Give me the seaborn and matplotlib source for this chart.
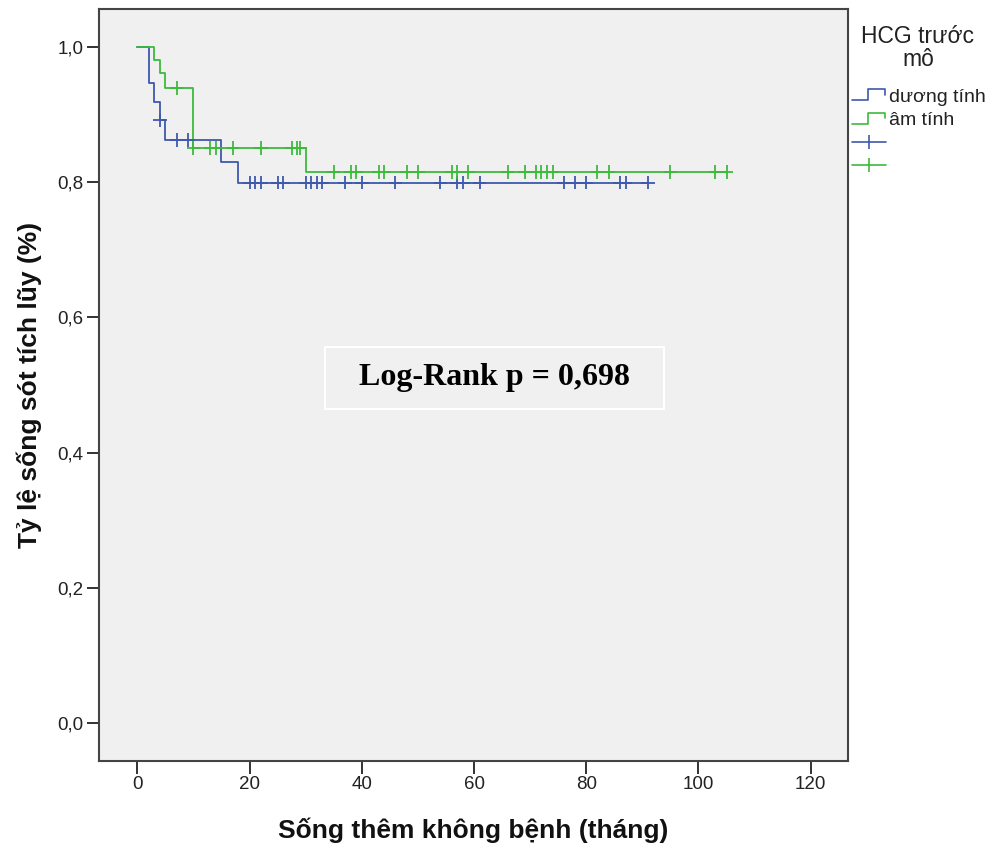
import numpy as np
import pandas as pd
import matplotlib
matplotlib.use("Agg")
import matplotlib.pyplot as plt
import seaborn as sns
from matplotlib.lines import Line2D
from matplotlib.patches import Rectangle
from matplotlib.legend_handler import HandlerBase
from matplotlib.ticker import FuncFormatter

# step points of the Kaplan-Meier curves (time in months, cumulative survival)
pos_times = [0, 2, 3, 4, 5, 15, 18]
pos_surv = [1.0, 0.947, 0.918, 0.891, 0.862, 0.830, 0.799]
neg_times = [0, 3, 4, 5, 10, 30]
neg_surv = [1.0, 0.981, 0.961, 0.939, 0.850, 0.815]

# censored observations
pos_censor = [4, 7, 9, 20, 21, 22, 25, 26, 30, 31, 32, 33, 37, 40, 46, 54,
              57, 58, 61, 76, 78, 80, 86, 87, 91]
neg_censor = [7, 10, 13, 14, 17, 22, 27.5, 28.5, 29, 35, 38, 39, 43, 44, 48,
              50, 56, 57, 59, 66, 69, 71, 72, 73, 74, 82, 84, 95, 103, 105]

groups = ["dương tính", "âm tính"]
legend_title = "HCG trước\nmô"
x_ticks = [0, 20, 40, 60, 80, 100, 120]
y_ticks = [0.0, 0.2, 0.4, 0.6, 0.8, 1.0]
p_text = "Log-Rank p = 0,698"

blue = "#3e58ac"
green = "#3cba3c"
palette = {groups[0]: blue, groups[1]: green}

sns.set_style("ticks")
plt.rcParams['font.family'] = ['Liberation Sans', 'DejaVu Sans']


def level_at(times, surv, t):
    i = np.searchsorted(times, t, side='right') - 1
    return surv[i]


# build step table and censor table
rows = []
cens = []
for g, tt, ss, cc in [(groups[0], pos_times, pos_surv, pos_censor),
                      (groups[1], neg_times, neg_surv, neg_censor)]:
    for t, s in zip(tt, ss):
        rows.append((g, t, s))
    rows.append((g, max(cc), ss[-1]))
    for c in cc:
        cens.append((g, c, level_at(tt, ss, c)))
steps = pd.DataFrame(rows, columns=['group', 'time', 'surv'])
censored = pd.DataFrame(cens, columns=['group', 'time', 'surv'])

fig = plt.figure(figsize=(9.95, 8.48), dpi=100)
ax = fig.add_axes([99 / 995, 1 - 761 / 848, 749 / 995, 752 / 848])
ax.set_facecolor('#f0f0f0')

sns.lineplot(data=steps, x='time', y='surv', hue='group', palette=palette,
             drawstyle='steps-post', estimator=None, sort=False,
             linewidth=1.3, legend=False, ax=ax)
sns.scatterplot(data=censored, x='time', y='surv', hue='group', palette=palette,
                marker='+', s=95, linewidth=1.3, legend=False, ax=ax, zorder=3)

ax.set_xlim(-6.83, 126.65)
ax.set_ylim(-0.0557, 1.0557)
ax.set_xticks(x_ticks)
ax.set_yticks(y_ticks)
ax.yaxis.set_major_formatter(FuncFormatter(lambda v, p: f"{v:.1f}".replace('.', ',')))
ax.tick_params(direction='out', length=9, width=1.4, color='#333333',
               labelsize=13.5, labelcolor='#222222', pad=2)
for sp in ax.spines.values():
    sp.set_color('#444444')
    sp.set_linewidth(1.5)

ax.set_xlabel("Sống thêm không bệnh (tháng)", fontsize=19, fontweight='bold',
              color='#111111')
ax.set_ylabel("Tỷ lệ sống sót tích lũy (%)", fontsize=19, fontweight='bold',
              color='#111111')
ax.xaxis.set_label_coords(0.5, -0.0755)
ax.yaxis.set_label_coords(-0.0755, 0.5)

# log-rank annotation box
ax.add_patch(Rectangle((0.3017, 0.468), 0.453, 0.0828, transform=ax.transAxes,
                       facecolor='none', edgecolor='white', linewidth=1.5))
ax.text(0.528, 0.5094, p_text, transform=ax.transAxes, ha='center', va='center',
        fontsize=23, fontweight='bold', color='black',
        family=['Liberation Serif', 'DejaVu Serif'])


class StepHandler(HandlerBase):
    def create_artists(self, legend, orig_handle, xdescent, ydescent, width,
                       height, fontsize, trans):
        x0 = -xdescent
        y0 = -ydescent
        xs = [x0, x0 + 0.48 * width, x0 + 0.48 * width, x0 + 0.97 * width, x0 + 0.97 * width]
        ys = [y0 + 0.1 * height, y0 + 0.1 * height, y0 + 0.9 * height,
              y0 + 0.9 * height, y0 + 0.5 * height]
        ln = Line2D(xs, ys, color=orig_handle.get_color(), linewidth=1.2,
                    transform=trans)
        return [ln]


# legend title as plain text, centred over the entries
fig.text(918 / 995, 1 - 25 / 848, legend_title, ha='center', va='top',
         multialignment='center', fontsize=16.5, linespacing=1.0,
         color='#222222')

h_pos = Line2D([], [], color=blue)
h_neg = Line2D([], [], color=green)
h_pos_c = Line2D([0, 1], [0, 0], color=blue, marker='|', markersize=10,
                 markeredgewidth=1.2, linewidth=1.2)
h_neg_c = Line2D([0, 1], [0, 0], color=green, marker='|', markersize=10,
                 markeredgewidth=1.2, linewidth=1.2)
leg = fig.legend([h_pos, h_neg, h_pos_c, h_neg_c], [groups[0], groups[1], '', ''],
                 handler_map={h_pos: StepHandler(), h_neg: StepHandler()},
                 loc='upper left', bbox_to_anchor=(852 / 995, 1 - 88 / 848),
                 frameon=False, fontsize=14, numpoints=1, handlelength=1.75,
                 handletextpad=0.15, labelspacing=0.3, borderpad=0,
                 borderaxespad=0)
for t in leg.get_texts():
    t.set_color('#222222')

fig.savefig("out.png", dpi=100)
